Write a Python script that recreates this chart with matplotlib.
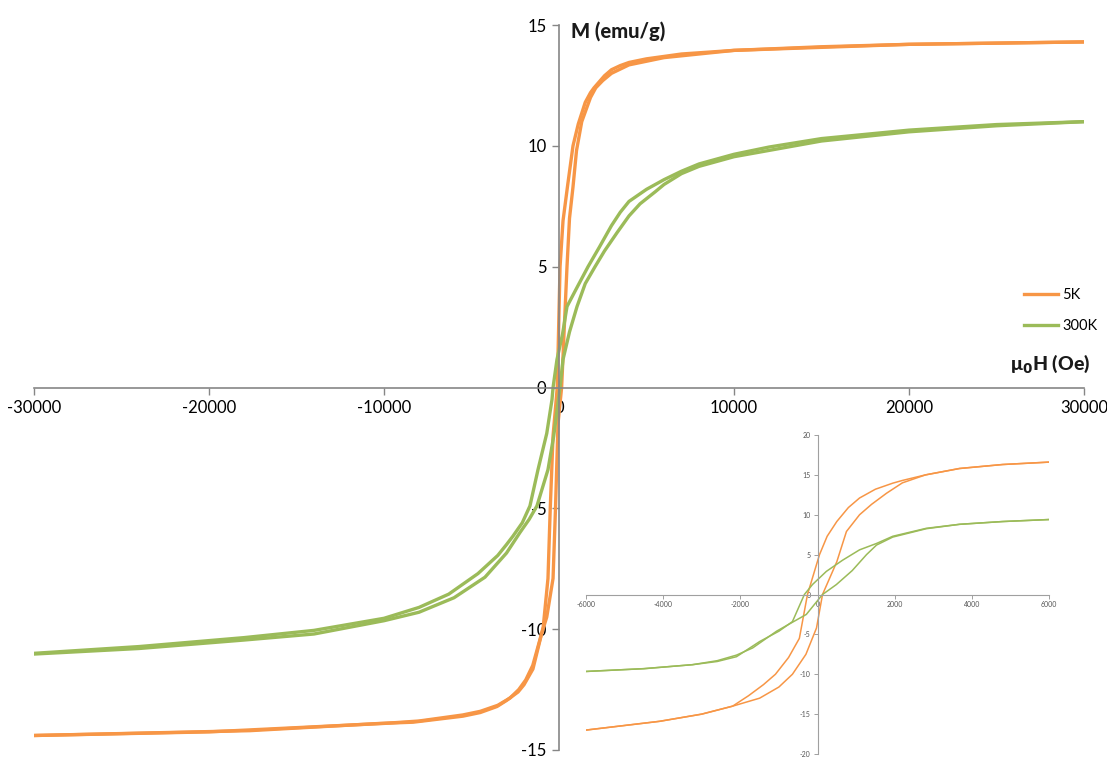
import numpy as np
import matplotlib
matplotlib.use('Agg')
from matplotlib import pyplot as plt

plt.rcParams['font.family'] = ['Lato', 'DejaVu Sans']
plt.rcParams['axes.unicode_minus'] = False

orange = '#F79646'
green = '#9BBB59'
axis_grey = '#868686'

# main loop, field in Oe, moment in emu/g
h_5k_down = [30000, 25000, 20000, 15000, 10000, 7000, 5000, 4000, 3500, 3000, 2600, 2300,
             2000, 1800, 1500, 1100, 800, 500, 230, 60, -100, -340, -500, -630, -900,
             -1100, -1490, -2000, -2340, -3000, -3540, -4500, -5490, -8340, -10230,
             -17660, -30000]
m_5k_down = [14.3, 14.25, 14.2, 14.1, 13.95, 13.8, 13.6, 13.45, 13.32, 13.15, 12.9, 12.65,
             12.4, 12.2, 11.8, 10.9, 10.0, 8.4, 6.9, 5.0, 0.0, -2.0, -5.0, -7.9, -9.9,
             -10.5, -11.65, -12.3, -12.6, -12.95, -13.2, -13.45, -13.6, -13.85, -13.9,
             -14.2, -14.4]
h_5k_up = [-30000, -20000, -10000, -8000, -5500, -4500, -3500, -2800, -2300, -1900, -1500,
           -1000, -700, -340, -200, -57, 150, 457, 600, 800, 1000, 1300, 1800, 2100, 2500,
           3000, 4000, 6000, 10000, 20000, 30000]
m_5k_up = [-14.4, -14.25, -13.9, -13.8, -13.55, -13.4, -13.15, -12.85, -12.5, -12.1, -11.5,
           -10.2, -9.5, -7.9, -5.0, -1.5, 0.0, 5.0, 7.0, 8.3, 9.8, 11.0, 12.0, 12.4, 12.7,
           13.0, 13.35, 13.65, 13.95, 14.2, 14.3]

h_300k_down = [30000, 25000, 20000, 15000, 12000, 10000, 8000, 7000, 6000, 5000, 4000,
               3500, 3000, 2300, 1660, 1000, 457, 200, -115, -340, -400, -700, -1200,
               -1660, -2100, -2630, -3000, -3500, -4630, -6300, -8000, -10000, -14000,
               -18000, -24000, -30000]
m_300k_down = [11.0, 10.88, 10.65, 10.3, 9.95, 9.65, 9.25, 8.95, 8.6, 8.2, 7.7,
               7.25, 6.7, 5.8, 5.0, 4.1, 3.35, 2.2, 1.16, 0.0, -0.5, -1.9, -3.4,
               -4.9, -5.6, -6.15, -6.5, -6.95, -7.7, -8.55, -9.1, -9.55, -10.05,
               -10.35, -10.72, -11.0]
h_300k_up = [-30000, -24000, -18000, -14000, -10000, -8000, -6000, -4230, -3000, -2230,
             -1700, -1260, -630, -300, 57, 230, 600, 1030, 1500, 2060, 2600, 3310, 4000,
             4630, 5500, 6000, 7000, 8000, 10000, 15000, 20000, 25000, 30000]
m_300k_up = [-11.03, -10.8, -10.45, -10.2, -9.65, -9.3, -8.7, -7.85, -6.85, -6.0,
             -5.45, -4.9, -3.4, -2.0, 0.0, 1.16, 2.3, 3.35, 4.3, 5.0, 5.65, 6.4, 7.1,
             7.6, 8.1, 8.4, 8.85, 9.15, 9.55, 10.2, 10.58, 10.83, 11.0]

# inset loop (low field)
ih_5k_down = [6000, 4800, 3680, 2800, 2200, 1950, 1500, 1090, 800, 500, 250, 52, -260,
              -470, -750, -1090, -1400, -1790, -2200, -3000, -4090, -6000]
im_5k_down = [16.6, 16.3, 15.8, 15.0, 14.3, 13.96, 13.2, 12.1, 10.9, 9.15, 7.3, 5.0, 0.0,
              -5.5, -7.9, -10.0, -11.3, -12.7, -14.0, -15.0, -15.9, -17.0]
ih_5k_up = [-6000, -4090, -3000, -2200, -1500, -1000, -650, -300, -26, 130, 500, 750,
            1090, 1400, 1790, 2200, 2800, 3680, 4800, 6000]
im_5k_up = [-17.0, -15.9, -15.0, -14.0, -13.0, -11.6, -10.0, -7.5, -4.2, 0.0, 4.1, 7.9,
            10.0, 11.3, 12.7, 14.0, 15.0, 15.8, 16.3, 16.6]

ih_300k_down = [6000, 4800, 3680, 2820, 1950, 1530, 1090, 650, 230, -130, -340, -650,
                -1000, -1500, -2100, -2600, -3240, -4500, -6000]
im_300k_down = [9.4, 9.15, 8.8, 8.3, 7.3, 6.4, 5.6, 4.3, 2.9, 1.25, 0.0, -3.4,
                -4.6, -5.9, -7.8, -8.4, -8.8, -9.3, -9.65]
ih_300k_up = [-6000, -4500, -3240, -2600, -2100, -1680, -1060, -290, 130, 490, 900, 1270,
              1530, 1950, 2820, 3680, 4800, 6000]
im_300k_up = [-9.65, -9.3, -8.8, -8.3, -7.6, -6.7, -4.6, -2.5, 0.0, 1.25, 3.0, 5.0,
              6.2, 7.2, 8.25, 8.8, 9.15, 9.4]

x_ticks = [-30000, -20000, -10000, 0, 10000, 20000, 30000]
y_ticks = [-15, -10, -5, 0, 5, 10, 15]
ix_ticks = [-6000, -4000, -2000, 0, 2000, 4000, 6000]
iy_ticks = [-20, -15, -10, -5, 0, 5, 10, 15, 20]


def centre_axes(ax, colour, width):
    ax.spines['left'].set_position('zero')
    ax.spines['bottom'].set_position('zero')
    ax.spines['top'].set_visible(False)
    ax.spines['right'].set_visible(False)
    for s in ('left', 'bottom'):
        ax.spines[s].set_color(colour)
        ax.spines[s].set_linewidth(width)
    ax.patch.set_alpha(0)


fig = plt.figure(figsize=(11.07, 7.58), dpi=100)
ax = fig.add_axes([34 / 1107, 8 / 758, 1050 / 1107, 725 / 758])

ax.plot(h_5k_down, m_5k_down, color=orange, lw=2.4, label='5K')
ax.plot(h_5k_up, m_5k_up, color=orange, lw=2.4)
ax.plot(h_300k_down, m_300k_down, color=green, lw=2.4, label='300K')
ax.plot(h_300k_up, m_300k_up, color=green, lw=2.4)

ax.set_xlim(-30000, 30000)
ax.set_ylim(-15, 15)
centre_axes(ax, axis_grey, 1.2)
ax.set_xticks(x_ticks)
ax.set_yticks(y_ticks)
ax.tick_params(axis='x', direction='out', length=5, width=1, color=axis_grey,
               labelsize=12, pad=4)
ax.tick_params(axis='y', direction='out', length=5, width=1, color=axis_grey,
               labelsize=12, pad=4)

ax.text(700, 14.75, 'M (emu/g)', ha='left', va='center',
        fontsize=14.5, fontweight='black', color='#1a1a1a')
ax.text(1.0055, 0.533, r'μ$_\mathbf{0}$H (Oe)', transform=ax.transAxes, ha='right',
        va='center', fontsize=14, fontweight='black', color='#1a1a1a')

leg = ax.legend(loc='upper right', bbox_to_anchor=(1.025, 0.655), frameon=False,
                fontsize=10.5, handlelength=2.3, handletextpad=0.3, labelspacing=1.15)

# inset
ins = fig.add_axes([586 / 1107, 4 / 758, 463 / 1107, 319 / 758])
ins.plot(ih_5k_down, im_5k_down, color=orange, lw=1.1)
ins.plot(ih_5k_up, im_5k_up, color=orange, lw=1.1)
ins.plot(ih_300k_down, im_300k_down, color=green, lw=1.1)
ins.plot(ih_300k_up, im_300k_up, color=green, lw=1.1)
ins.set_xlim(-6000, 6000)
ins.set_ylim(-20, 20)
centre_axes(ins, '#a0a0a0', 0.8)
ins.set_xticks(ix_ticks)
ins.set_yticks(iy_ticks)
ins.tick_params(axis='both', direction='out', length=3, width=0.7, color='#a0a0a0',
                labelsize=5, labelcolor='#555555', pad=2)

fig.savefig('out.png', dpi=100)
